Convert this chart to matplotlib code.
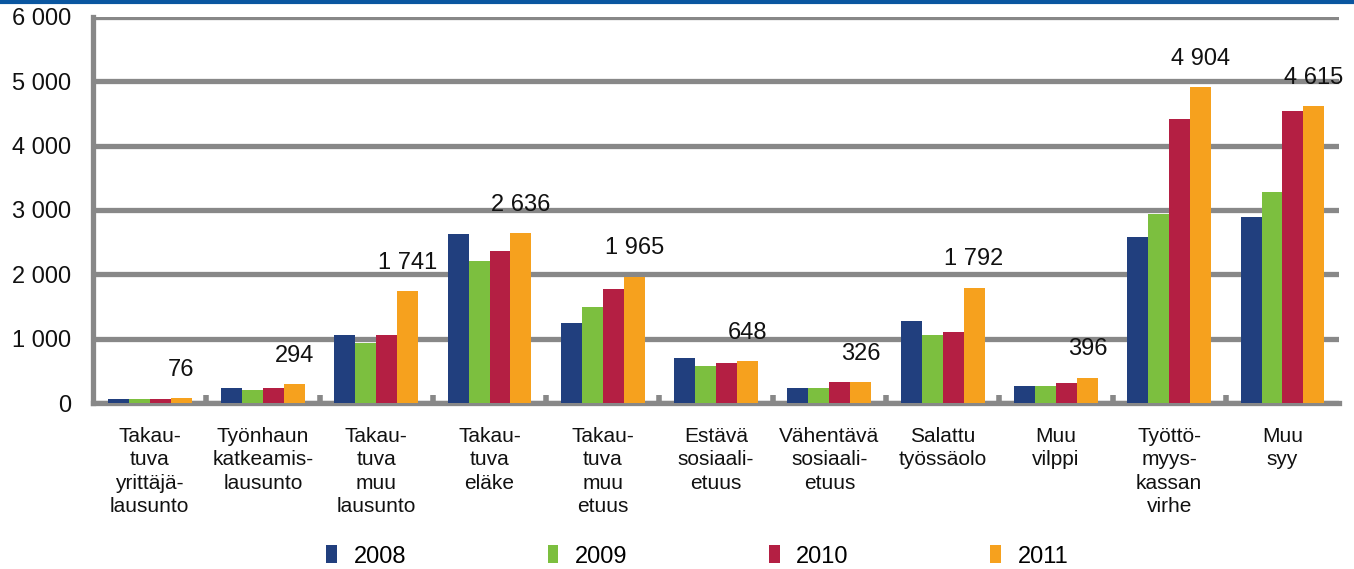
import matplotlib
matplotlib.use("Agg")
import matplotlib.pyplot as plt
import numpy as np
from matplotlib.lines import Line2D

plt.rcParams['font.family'] = ['Liberation Sans', 'DejaVu Sans']

# categories (x-axis) and yearly values
categories = [
    "Takau-\ntuva\nyrittäjä-\nlausunto",
    "Työnhaun\nkatkeamis-\nlausunto",
    "Takau-\ntuva\nmuu\nlausunto",
    "Takau-\ntuva\neläke",
    "Takau-\ntuva\nmuu\netuus",
    "Estävä\nsosiaali-\netuus",
    "Vähentävä\nsosiaali-\netuus",
    "Salattu\ntyössäolo",
    "Muu\nvilppi",
    "Työttö-\nmyys-\nkassan\nvirhe",
    "Muu\nsyy",
]
years = ["2008", "2009", "2010", "2011"]
v2008 = [60, 240, 1060, 2630, 1240, 700, 235, 1280, 270, 2580, 2890]
v2009 = [62, 195, 930, 2200, 1500, 575, 235, 1060, 270, 2930, 3280]
v2010 = [65, 240, 1060, 2370, 1765, 620, 320, 1105, 310, 4410, 4540]
v2011 = [76, 294, 1741, 2636, 1965, 648, 326, 1792, 396, 4904, 4615]
colors = ["#213f7e", "#7cbf3f", "#b41f43", "#f6a11e"]

def fmt(v):
    return "{:,}".format(v).replace(",", " ")

fig = plt.figure(figsize=(13.54, 5.69), dpi=100)
ax = fig.add_axes([0.0687, 0.2917, 0.9203, 0.6785])

x = np.arange(len(categories))
w = 0.185
series = [v2008, v2009, v2010, v2011]
for i, (vals, c, yr) in enumerate(zip(series, colors, years)):
    ax.bar(x + (i - 1.5) * w, vals, w, color=c, label=yr, zorder=3)

# labels above 2011 bars
for xi, v in zip(x, v2011):
    ax.text(xi + 1.5 * w, v + 440, fmt(v), ha='center', va='center',
            fontsize=17, color='#111111')

ax.set_xlim(-0.5, len(categories) - 0.5)
ax.set_ylim(0, 6000)
yt = np.arange(0, 6001, 1000)
ax.set_yticks(yt)
ax.set_yticklabels([fmt(v) for v in yt], fontsize=17, color='#111111')
ax.tick_params(axis='y', length=0, pad=16)

ax.set_xticks(x)
ax.set_xticklabels(categories, fontsize=15, color='#111111', linespacing=1.3, va='top')
ax.tick_params(axis='x', which='major', length=0, pad=17)
ax.set_xticks(np.arange(0.5, len(categories) - 1, 1), minor=True)
ax.tick_params(axis='x', which='minor', direction='in', length=6, width=4, color='#888888')

ax.grid(axis='y', color='#888888', linewidth=3.8, zorder=0)
ax.set_axisbelow(True)
for s in ['top', 'right']:
    ax.spines[s].set_visible(False)
for s in ['left', 'bottom']:
    ax.spines[s].set_color('#888888')
    ax.spines[s].set_linewidth(3.8)

leg = fig.legend(loc='center', bbox_to_anchor=(0.515, 0.022), ncol=4, frameon=False,
                 fontsize=17, handlelength=0.45, handleheight=0.8, handletextpad=0.7,
                 columnspacing=6.0)

# blue rule across the top
fig.add_artist(Line2D([0, 1], [1 - 1.5 / 569, 1 - 1.5 / 569], color='#0a56a0',
                      linewidth=3, transform=fig.transFigure))

fig.savefig("out.png", dpi=100)
